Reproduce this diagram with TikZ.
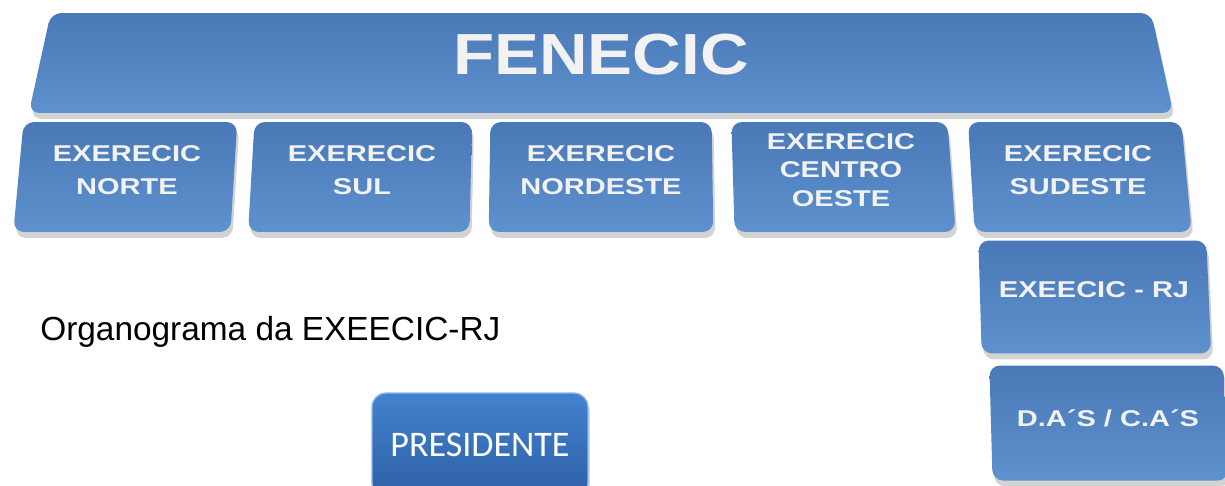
\documentclass[tikz,border=0pt]{standalone}
\usepackage{fontspec}
\usepackage{tikz}
\usetikzlibrary{shapes.geometric,shadows}
\setmainfont{Liberation Sans}
\newfontfamily\boxfont{Liberation Sans}[FakeStretch=1.27]
\newfontfamily\titlefont{Liberation Sans}[FakeStretch=1.16]
\newfontfamily\presfont{Carlito}
\definecolor{boxtop}{HTML}{4979B6}
\definecolor{boxbottom}{HTML}{5E91CE}
\definecolor{boxtext}{HTML}{F2F2F2}
\definecolor{prestop}{HTML}{4282CE}
\definecolor{presbottom}{HTML}{2D60A6}
\definecolor{presedge}{HTML}{8AB6EC}

\begin{document}
\begin{tikzpicture}[x=0.02cm, y=-0.02cm,
  unit/.style={trapezium, trapezium stretches=true, rounded corners=6pt,
    top color=boxtop, bottom color=boxbottom, text=boxtext, align=center,
    drop shadow={opacity=0.35, shadow xshift=0.4mm, shadow yshift=-1.2mm},
    font=\boxfont\bfseries\fontsize{13}{19}\selectfont, text depth=0.28cm,
    minimum width=4.5cm, minimum height=2.2cm}]
\clip (0,0) rectangle (1225,485);

% Federation
\node[unit, minimum width=22.94cm, minimum height=2cm, trapezium left angle=85, trapezium right angle=85,
  text depth=0.36cm, font=\titlefont\bfseries\fontsize{33}{40}\selectfont] (fenecic) at (601,63) {FENECIC};

% Regional executives
\node[unit, trapezium left angle=84, trapezium right angle=94] (norte) at (127,177) {EXERECIC\\NORTE};
\node[unit, trapezium left angle=86.4, trapezium right angle=91.4] (sul) at (362,177) {EXERECIC\\SUL};
\node[unit, trapezium left angle=89, trapezium right angle=89] (nordeste) at (601,177) {EXERECIC\\NORDESTE};
\node[unit, trapezium left angle=91.4, trapezium right angle=86.4,
  font=\boxfont\bfseries\fontsize{13}{16}\selectfont] (centro) at (841,177) {EXERECIC\\CENTRO\\OESTE};
\node[unit, trapezium left angle=93.8, trapezium right angle=84] (sudeste) at (1078,177) {EXERECIC\\SUDESTE};

% State level
\node[unit, minimum width=4.66cm, minimum height=2.26cm, trapezium left angle=94, trapezium right angle=84] (rj) at (1094,297) {EXEECIC - RJ};
\node[unit, minimum width=4.78cm, minimum height=2.3cm, trapezium left angle=94, trapezium right angle=84,
  text depth=0.2cm] (dacas) at (1108,423) {D.A´S / C.A´S};

% Organogram of the state executive
\node[anchor=base west, inner sep=0pt, font=\fontsize{19}{23}\selectfont] (caption) at (40,340) {Organograma da EXEECIC-RJ};
\node[rectangle, rounded corners=8pt, minimum width=4.32cm, minimum height=2.08cm,
  top color=prestop, bottom color=presbottom, draw=presedge, line width=0.8pt, text=white,
  drop shadow={opacity=0.3, shadow xshift=0.4mm, shadow yshift=-1mm},
  font=\presfont\fontsize{20.5}{24}\selectfont] (presidente) at (480,445) {PRESIDENTE};
\end{tikzpicture}
\end{document}
